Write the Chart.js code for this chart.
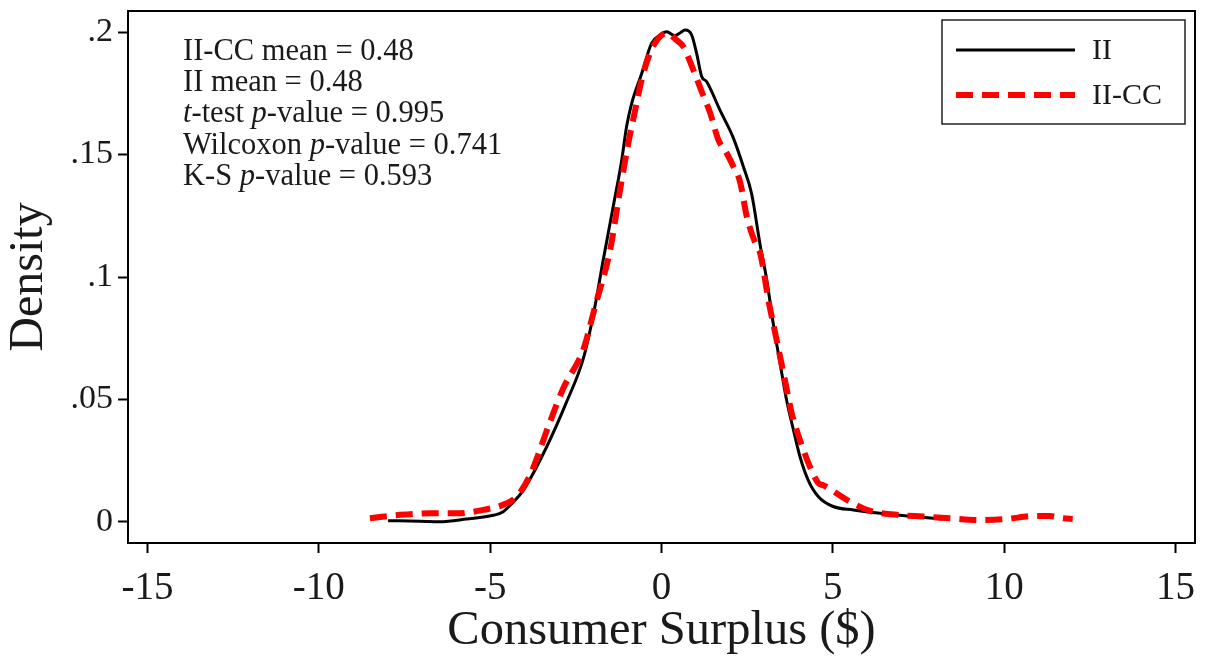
<!DOCTYPE html>
<html><head><meta charset="utf-8">
<script src="https://cdn.jsdelivr.net/npm/chart.js@4.4.1/dist/chart.umd.min.js"></script>
<style>html,body{margin:0;padding:0;background:#fff;overflow:hidden}#wrap{width:1206px;height:662px}</style>
</head><body><div id="wrap"><canvas id="c" width="1206" height="662"></canvas></div>
<script>
// ---- data ----
const iiX = [-7.98,-7.05,-6.47,-5.69,-4.91,-4.62,-4.42,-4.03,-3.35,-2.77,-2.28,-1.99,-1.70,-1.41,-1.16,-1.02,-0.87,-0.58,-0.29,-0.04,0.15,0.39,0.54,0.69,0.88,1.03,1.17,1.32,1.71,2.09,2.39,2.63,2.88,3.07,3.26,3.46,3.65,3.85,4.04,4.28,4.58,5.01,5.60,6.38,7.35,8.23];
const iiY = [0.0005,0.0003,0.0001,0.0012,0.0027,0.0042,0.0068,0.013,0.0307,0.0490,0.0668,0.0845,0.107,0.1287,0.1478,0.1613,0.1709,0.183,0.1954,0.1988,0.2001,0.1985,0.1996,0.2008,0.1988,0.191,0.182,0.1797,0.168,0.157,0.145,0.134,0.113,0.099,0.0811,0.0648,0.0498,0.0376,0.0267,0.0171,0.0103,0.0063,0.0049,0.0035,0.0022,0.0011];
const ccX = [-8.51,-7.63,-6.76,-5.98,-5.20,-4.52,-4.23,-3.84,-3.25,-2.87,-2.28,-1.94,-1.50,-1.21,-0.97,-0.77,-0.58,-0.34,-0.09,0.15,0.44,0.64,0.93,1.22,1.42,1.66,1.90,2.10,2.29,2.49,2.78,2.88,3.12,3.36,3.60,3.80,4.04,4.33,4.58,4.72,5.41,6.09,6.87,7.64,8.42,9.30,10.08,10.85,11.34,11.73,12.0];
const ccY = [0.0015,0.0029,0.0035,0.0035,0.0049,0.0076,0.0103,0.019,0.0410,0.0545,0.0705,0.0879,0.111,0.1355,0.1545,0.168,0.1804,0.1913,0.1974,0.1996,0.1967,0.194,0.1845,0.174,0.167,0.156,0.1506,0.145,0.139,0.1246,0.1124,0.1097,0.0906,0.0743,0.058,0.0444,0.0335,0.0226,0.0158,0.015,0.009,0.0045,0.0029,0.0022,0.0015,0.0008,0.0012,0.0024,0.0024,0.0015,0.0012];
const seriesLabels = ['II', 'II-CC'];
const xTicks = [-15,-10,-5,0,5,10,15];
const yTicks = [0,0.05,0.1,0.15,0.2];
const yTickLabels = ['0','.05','.1','.15','.2'];
const xTitle = 'Consumer Surplus ($)';
const yTitle = 'Density';
// each line: segments [text, italic]
const statLines = [
  [['II-CC mean = 0.48', false]],
  [['II mean = 0.48', false]],
  [['t', true], ['-test ', false], ['p', true], ['-value = 0.995', false]],
  [['Wilcoxon ', false], ['p', true], ['-value = 0.741', false]],
  [['K-S ', false], ['p', true], ['-value = 0.593', false]]
];

const FONT = '"Liberation Serif", "DejaVu Serif", serif';
const TXT = '#1a1a1a';

const decor = {
  id: 'decor',
  afterDraw(chart) {
    const ctx = chart.ctx, a = chart.chartArea;
    ctx.save();
    // plot frame
    ctx.strokeStyle = '#000'; ctx.lineWidth = 2;
    ctx.strokeRect(a.left, a.top, a.right - a.left, a.bottom - a.top);
    // stats text
    ctx.fillStyle = TXT; ctx.textBaseline = 'middle'; ctx.textAlign = 'left';
    const sx = a.left + 55;
    statLines.forEach((segs, i) => {
      let x = sx; const y = a.top + 41 + i * 31.2;
      segs.forEach(([t, it]) => {
        ctx.font = (it ? 'italic ' : '') + '30.5px ' + FONT;
        ctx.fillText(t, x, y);
        x += ctx.measureText(t).width;
      });
    });
    // legend box
    const lx = a.right - 253, ly = a.top + 9, lw = 243, lh = 104;
    ctx.lineWidth = 1.5; ctx.strokeStyle = '#222';
    ctx.strokeRect(lx, ly, lw, lh);
    const ds = chart.data.datasets;
    const rows = [ly + 30, ly + 75];
    [0, 1].forEach((k, i) => {
      const d = ds[k];
      ctx.beginPath();
      ctx.setLineDash(d.borderDash || []);
      ctx.lineCap = 'butt';
      ctx.lineWidth = d.borderWidth; ctx.strokeStyle = d.borderColor;
      ctx.moveTo(lx + 14, rows[i]); ctx.lineTo(lx + 133, rows[i]);
      ctx.stroke();
      ctx.setLineDash([]);
      ctx.font = '30px ' + FONT; ctx.fillStyle = TXT;
      ctx.fillText(d.label, lx + 150, rows[i] + 1);
    });
    ctx.restore();
  }
};

new Chart(document.getElementById('c'), {
  type: 'line',
  data: {
    datasets: [
      { label: seriesLabels[0], data: iiX.map((x, i) => ({x, y: iiY[i]})), borderColor: '#000', borderWidth: 3,
        pointRadius: 0, cubicInterpolationMode: 'monotone', fill: false, order: 1 },
      { label: seriesLabels[1], data: ccX.map((x, i) => ({x, y: ccY[i]})), borderColor: 'rgb(255,0,0)', borderWidth: 6,
        borderDash: [17, 9], borderCapStyle: 'butt', pointRadius: 0, cubicInterpolationMode: 'monotone', fill: false, order: 0 }
    ]
  },
  options: {
    responsive: false, animation: false, devicePixelRatio: 1,
    layout: { padding: { top: 11, right: 11, left: 0, bottom: 0 } },
    plugins: { legend: { display: false }, tooltip: { enabled: false } },
    scales: {
      x: {
        type: 'linear', position: 'bottom', min: -15.57, max: 15.57,
        afterBuildTicks: s => { s.ticks = xTicks.map(v => ({ value: v })); },
        afterFit: s => { s.height = 119; s.paddingLeft = 0; s.paddingRight = 0; },
        grid: { display: true, drawOnChartArea: false, drawTicks: true, tickLength: 10, tickWidth: 2, tickColor: '#000' },
        border: { display: true, color: '#000', width: 2 },
        ticks: { autoSkip: false, maxRotation: 0, padding: 12, color: TXT, font: { family: FONT, size: 39 }, callback: v => String(v) },
        title: { display: true, text: xTitle, color: TXT, font: { family: FONT, size: 48.5 }, padding: { top: 0, bottom: 2 } }
      },
      y: {
        type: 'linear', position: 'left', min: -0.0086, max: 0.2086,
        afterBuildTicks: s => { s.ticks = yTicks.map(v => ({ value: v })); },
        afterFit: s => { s.width = 128; s.paddingTop = 0; s.paddingBottom = 0; },
        grid: { display: true, drawOnChartArea: false, drawTicks: true, tickLength: 10, tickWidth: 2, tickColor: '#000' },
        border: { display: true, color: '#000', width: 2 },
        ticks: { autoSkip: false, padding: 5, color: TXT, font: { family: FONT, size: 34 },
          callback: (v) => { const i = yTicks.indexOf(v); return i >= 0 ? yTickLabels[i] : ''; } },
        title: { display: true, text: yTitle, color: TXT, font: { family: FONT, size: 48 }, padding: { top: 1, bottom: 0 } }
      }
    }
  },
  plugins: [decor]
});
</script></body></html>
